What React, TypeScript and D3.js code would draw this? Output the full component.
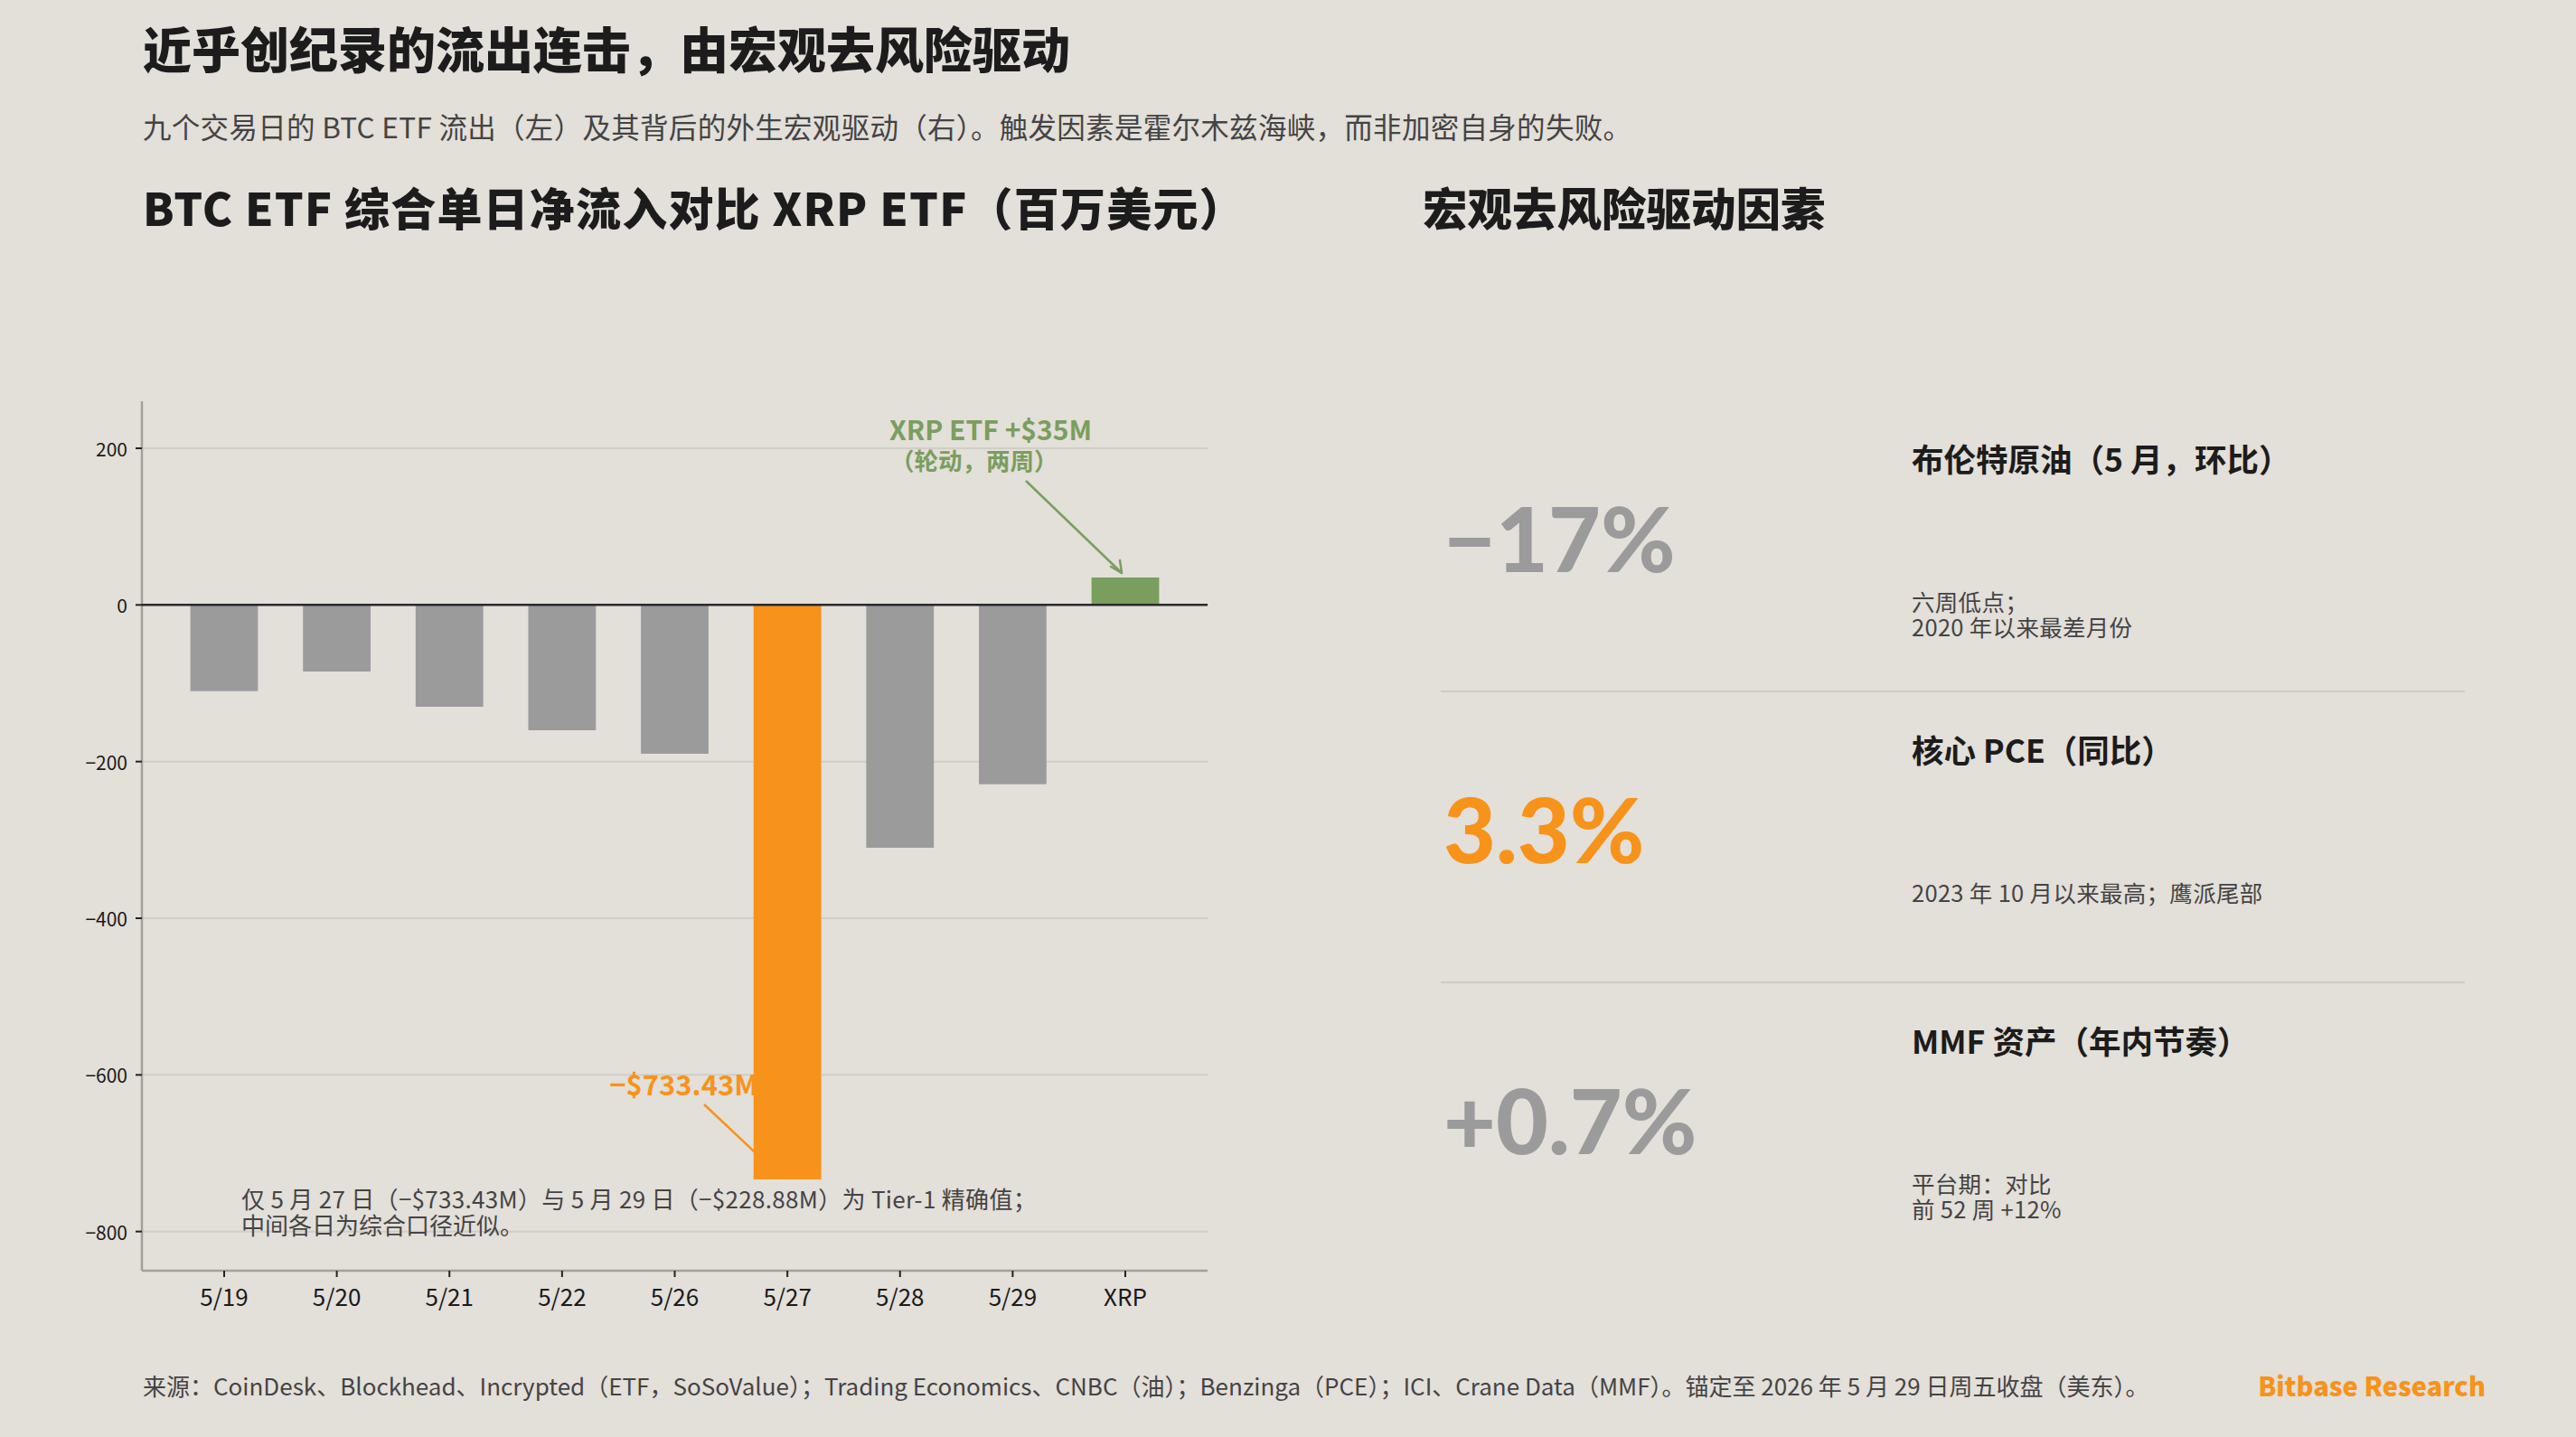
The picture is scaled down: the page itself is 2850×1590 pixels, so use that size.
import React, { useEffect } from 'react';
import * as d3 from 'd3';

// daily net flows, $M (BTC ETF composite days + XRP ETF two-week total)
const days = ['5/19', '5/20', '5/21', '5/22', '5/26', '5/27', '5/28', '5/29', 'XRP'];
const flows = [-110, -85, -130, -160, -190, -733.43, -310, -228.88, 35];
const yTicks = [200, 0, -200, -400, -600, -800];

// macro de-risking panel
const macroValues = ['−17%', '3.3%', '+0.7%'];
const macroTitles = ['布伦特原油（5 月，环比）', '核心 PCE（同比）', 'MMF 资产（年内节奏）'];
const macroNotes = [
  ['六周低点；', '2020 年以来最差月份'],
  ['2023 年 10 月以来最高；鹰派尾部'],
  ['平台期：对比', '前 52 周 +12%'],
];
const macroHighlight = [false, true, false];

const W = 2850;
const H = 1590;
const BG = '#e3dfd9';
const ORANGE = '#f7931a';
const GREEN = '#7a9e5e';
const GREY_BAR = '#9b9b9b';
const INK = '#1c1c1c';
const MUTED = '#444444';
const FONT = '"Noto Sans CJK SC", "Noto Sans", sans-serif';
const NUM_FONT = 'Lato, "Noto Sans", sans-serif';

const plot = { left: 157, right: 1336, top: 444, bottom: 1406 };

function barColor(day: string) {
  if (day === '5/27') return ORANGE;
  if (day === 'XRP') return GREEN;
  return GREY_BAR;
}

export default function App() {
  useEffect(() => {
    document.body.style.margin = '0';
    document.body.style.background = BG;
  }, []);

  const x = d3.scaleBand<string>()
    .domain(days)
    .range([plot.left, plot.right])
    .paddingInner(0.4)
    .paddingOuter(0.43);

  const y = d3.scaleLinear()
    .domain([-850, 260])
    .range([plot.bottom, plot.top]);

  const bw = x.bandwidth();
  const cx = (d: string) => (x(d) as number) + bw / 2;

  // annotation anchors
  const xrpTop = y(35);
  const bigLeft = x('5/27') as number;

  const rowTop = 443;
  const rowH = 322;

  return (
    <svg width={W} height={H} style={{ display: 'block', background: BG }} fontFamily={FONT}>
      <rect x={0} y={0} width={W} height={H} fill={BG} />

      {/* headings */}
      <text x={158} y={52} fontSize={54} fontWeight={900} fill={INK} dominantBaseline="central">
        近乎创纪录的流出连击，由宏观去风险驱动
      </text>
      <text x={158} y={139} fontSize={31.5} fill={MUTED} dominantBaseline="central" letterSpacing={0.3}>
        九个交易日的 BTC ETF 流出（左）及其背后的外生宏观驱动（右）。触发因素是霍尔木兹海峡，而非加密自身的失败。
      </text>
      <text x={158} y={228} fontSize={50} fontWeight={900} fill={INK} dominantBaseline="central" letterSpacing={1.2}>
        BTC ETF 综合单日净流入对比 XRP ETF（百万美元）
      </text>
      <text x={1574} y={228} fontSize={49.5} fontWeight={900} fill={INK} dominantBaseline="central">
        宏观去风险驱动因素
      </text>

      {/* grid */}
      {yTicks.filter(t => t !== 0).map(t => (
        <line key={t} x1={plot.left} x2={plot.right} y1={y(t)} y2={y(t)} stroke="#d2cdc6" strokeWidth={2} />
      ))}

      {/* y axis */}
      <line x1={plot.left} x2={plot.left} y1={plot.top} y2={plot.bottom} stroke="#a3a09c" strokeWidth={2.5} />
      {yTicks.map(t => (
        <g key={t}>
          <line x1={plot.left - 7} x2={plot.left} y1={y(t)} y2={y(t)} stroke="#222" strokeWidth={2} />
          <text x={plot.left - 16} y={y(t)} fontSize={21} fill="#1a1a1a" textAnchor="end" dominantBaseline="central">
            {t < 0 ? `−${Math.abs(t)}` : t}
          </text>
        </g>
      ))}

      {/* x axis */}
      <line x1={plot.left} x2={plot.right} y1={plot.bottom} y2={plot.bottom} stroke="#a3a09c" strokeWidth={2.5} />
      {days.map(d => (
        <g key={d}>
          <line x1={cx(d)} x2={cx(d)} y1={plot.bottom} y2={plot.bottom + 7} stroke="#222" strokeWidth={2} />
          <text x={cx(d)} y={plot.bottom + 27} fontSize={26} fill="#1a1a1a" textAnchor="middle" dominantBaseline="central">
            {d}
          </text>
        </g>
      ))}

      {/* annotation for the record day sits under the bars */}
      <text x={bigLeft + 5} y={1198} fontSize={31} fontWeight={700} fill={ORANGE} textAnchor="end" dominantBaseline="central">
        −$733.43M
      </text>
      <line x1={779} y1={1222} x2={bigLeft + 10} y2={1283} stroke={ORANGE} strokeWidth={2.5} />

      {/* bars */}
      {days.map((d, i) => (
        <rect
          key={d}
          x={x(d)}
          y={y(Math.max(0, flows[i]))}
          width={bw}
          height={Math.abs(y(flows[i]) - y(0))}
          fill={barColor(d)}
        />
      ))}

      {/* zero line */}
      <line x1={plot.left} x2={plot.right} y1={y(0)} y2={y(0)} stroke="#2a2a2a" strokeWidth={2.5} />

      {/* XRP annotation */}
      <text x={984} y={474} fontSize={30} fontWeight={700} fill={GREEN} dominantBaseline="central">
        XRP ETF +$35M
      </text>
      <text x={985} y={508} fontSize={26.5} fontWeight={700} fill={GREEN} dominantBaseline="central">
        （轮动，两周）
      </text>
      <line x1={1135} y1={532} x2={cx('XRP') - 4} y2={xrpTop - 5} stroke={GREEN} strokeWidth={2.5} />
      <path
        d={`M${cx('XRP') - 16},${xrpTop - 12} L${cx('XRP') - 4},${xrpTop - 5} L${cx('XRP') - 6},${xrpTop - 19}`}
        fill="none"
        stroke={GREEN}
        strokeWidth={2.5}
        strokeLinecap="round"
        strokeLinejoin="round"
      />

      {/* data quality note */}
      <text x={267} y={1325} fontSize={26} fill={MUTED} dominantBaseline="central" letterSpacing={0.3}>
        仅 5 月 27 日（−$733.43M）与 5 月 29 日（−$228.88M）为 Tier-1 精确值；
      </text>
      <text x={267} y={1354} fontSize={26} fill={MUTED} dominantBaseline="central">
        中间各日为综合口径近似。
      </text>

      {/* macro rows */}
      {macroValues.map((v, i) => {
        const top = rowTop + i * rowH;
        return (
          <g key={v}>
            {i > 0 && (
              <line x1={1594} x2={2727} y1={top} y2={top} stroke="#d0cbc3" strokeWidth={2} />
            )}
            <text
              x={1597}
              y={top + 151}
              fontSize={100}
              fontWeight={900}
              fontFamily={NUM_FONT}
              fill={macroHighlight[i] ? ORANGE : GREY_BAR}
              dominantBaseline="central"
            >
              {v}
            </text>
            <text x={2115} y={top + 63} fontSize={35.5} fontWeight={700} fill={INK} dominantBaseline="central">
              {macroTitles[i]}
            </text>
            {macroNotes[i].map((n, j) => (
              <text key={j} x={2115} y={top + 221 + j * 28.5} fontSize={25.5} fill={MUTED} dominantBaseline="central" letterSpacing={0.3}>
                {n}
              </text>
            ))}
          </g>
        );
      })}

      {/* footer */}
      <text x={158} y={1532} fontSize={26} fill={MUTED} dominantBaseline="central">
        来源：CoinDesk、Blockhead、Incrypted（ETF，SoSoValue）；Trading Economics、CNBC（油）；Benzinga（PCE）；ICI、Crane Data（MMF）。锚定至 2026 年 5 月 29 日周五收盘（美东）。
      </text>
      <text x={2750} y={1532} fontSize={29} fontWeight={800} fill={ORANGE} textAnchor="end" dominantBaseline="central">
        Bitbase Research
      </text>
    </svg>
  );
}
